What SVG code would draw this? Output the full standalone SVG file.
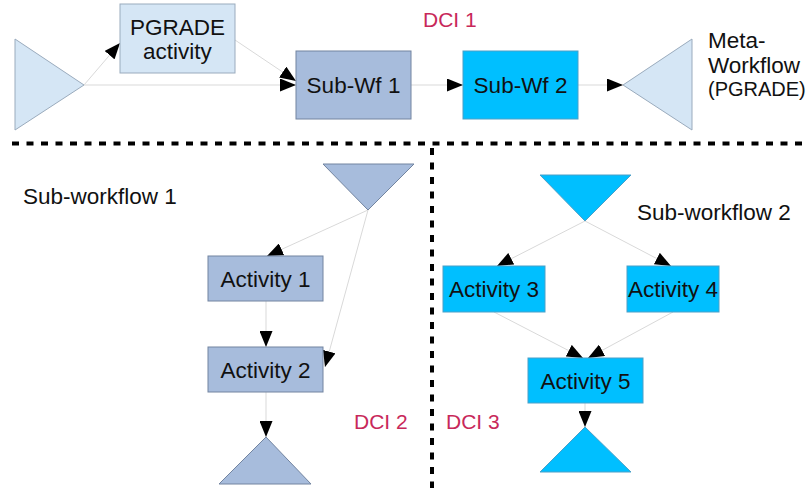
<svg xmlns="http://www.w3.org/2000/svg" width="808" height="488" viewBox="0 0 808 488">
<style>
text{font-family:"Liberation Sans",Arial,sans-serif;font-size:22.5px;fill:#111}
.c{text-anchor:middle}
.dci{fill:#c8285a;font-size:21px}
.lt{fill:#d5e6f5;stroke:#9aabbd;stroke-width:1}
.md{fill:#a7bcdc;stroke:#7284a0;stroke-width:1}
.cy{fill:#00bfff;stroke:#4aa0c8;stroke-width:1}
.e{fill:none;stroke:#d9d9d9;stroke-width:1;marker-end:url(#ah)}
.sep{fill:none;stroke:#000;stroke-width:4;stroke-dasharray:7 7.5}
</style>
<defs>
<marker id="ah" markerUnits="userSpaceOnUse" markerWidth="16" markerHeight="13" viewBox="0 0 16 13" refX="16" refY="6.5" orient="auto">
<path d="M0,0 L16,6.5 L0,13 Z" fill="#000"/>
</marker>
</defs>
<rect width="808" height="488" fill="#fff"/>
<g id="separators">
<line class="sep" x1="12" y1="143.5" x2="808" y2="143.5"/>
<line class="sep" x1="432" y1="148" x2="432" y2="488"/>
</g>
<g id="connectors">
<path class="e" d="M84,85 L120,43"/>
<path class="e" d="M84,85 L296,85"/>
<path class="e" d="M235,40 L296,81"/>
<path class="e" d="M411,85 L463,85"/>
<path class="e" d="M578,85 L623,85"/>
<path class="e" d="M368,210 L267,256"/>
<path class="e" d="M368,210 L325,367"/>
<path class="e" d="M266,301 L266,347"/>
<path class="e" d="M266,392 L266,437"/>
<path class="e" d="M585,221 L497,266"/>
<path class="e" d="M585,221 L671,266"/>
<path class="e" d="M494,312 L583,358"/>
<path class="e" d="M673,312 L588,358"/>
<path class="e" d="M585,403 L585,427"/>
</g>
<g id="meta-source"><polygon class="lt" points="15,39 84,85 15,130"/></g>
<g id="pgrade-activity">
<rect class="lt" x="120" y="4" width="115" height="69"/>
<text class="c" x="177.5" y="35">PGRADE</text>
<text class="c" x="177.5" y="59">activity</text>
</g>
<g id="sub-wf-1"><rect class="md" x="296" y="51" width="115" height="68"/><text class="c" x="353.5" y="93">Sub-Wf 1</text></g>
<g id="sub-wf-2"><rect class="cy" x="463" y="51" width="115" height="68"/><text class="c" x="520.5" y="93">Sub-Wf 2</text></g>
<g id="meta-sink"><polygon class="lt" points="692,39 623,85 692,130"/></g>
<g id="meta-label">
<text x="708" y="48">Meta-</text>
<text x="708" y="73">Workflow</text>
<text x="708" y="96" style="font-size:20px">(PGRADE)</text>
</g>
<g id="dci1"><text class="dci" x="423" y="27">DCI 1</text></g>
<g id="sw1-label"><text x="23" y="204">Sub-workflow 1</text></g>
<g id="sw1-source"><polygon class="md" points="323,164 414,164 368,210"/></g>
<g id="activity-1"><rect class="md" x="208" y="256" width="115" height="45"/><text class="c" x="265.5" y="286.5">Activity 1</text></g>
<g id="activity-2"><rect class="md" x="208" y="347" width="115" height="45"/><text class="c" x="265.5" y="377.5">Activity 2</text></g>
<g id="sw1-sink"><polygon class="md" points="266,437 311,484 219,484"/></g>
<g id="dci2"><text class="dci" x="354" y="429">DCI 2</text></g>
<g id="sw2-label"><text x="637" y="220">Sub-workflow 2</text></g>
<g id="sw2-source"><polygon class="cy" points="540,175 631,175 585,221"/></g>
<g id="activity-3"><rect class="cy" x="443" y="266" width="102" height="46"/><text class="c" x="494" y="297">Activity 3</text></g>
<g id="activity-4"><rect class="cy" x="627" y="266" width="92" height="46"/><text class="c" x="673" y="297">Activity 4</text></g>
<g id="activity-5"><rect class="cy" x="528" y="358" width="115" height="45"/><text class="c" x="585.5" y="388.5">Activity 5</text></g>
<g id="sw2-sink"><polygon class="cy" points="585,427 631,472 540,472"/></g>
<g id="dci3"><text class="dci" x="446" y="429">DCI 3</text></g>
</svg>
